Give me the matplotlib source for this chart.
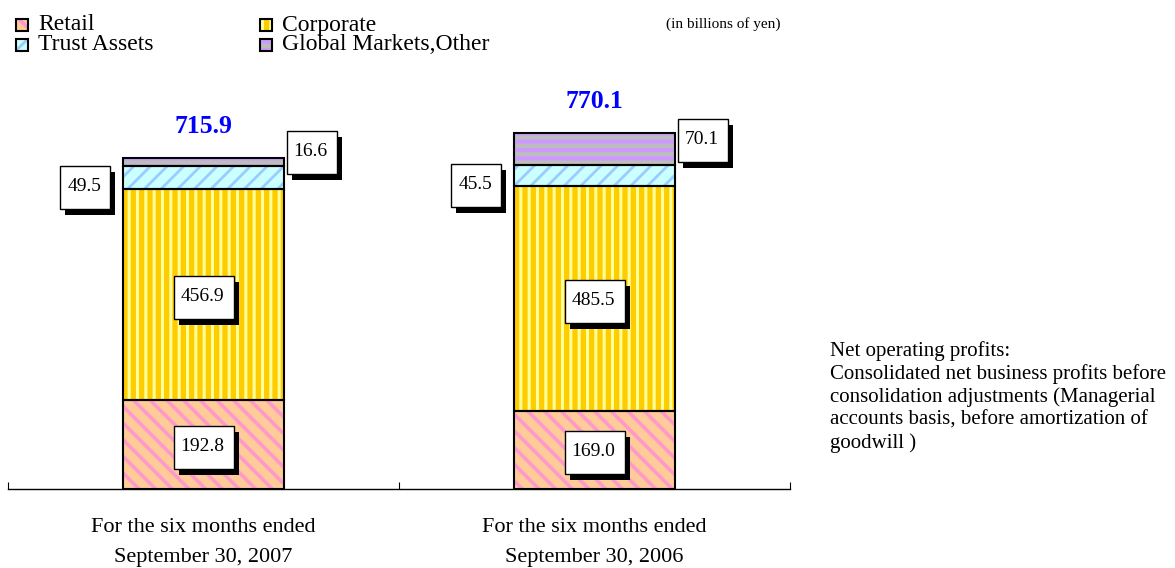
import matplotlib
matplotlib.use("Agg")
import matplotlib.pyplot as plt
import matplotlib.transforms as mtransforms
from matplotlib.patches import Rectangle

# values in billions of yen
periods = ["For the six months ended\nSeptember 30, 2007",
           "For the six months ended\nSeptember 30, 2006"]
segment_names = ["Retail", "Corporate", "Trust Assets", "Global Markets,Other"]
retail = [192.8, 169.0]
corporate = [456.9, 485.5]
trust_assets = [49.5, 45.5]
global_markets = [16.6, 70.1]
totals = [715.9, 770.1]

unit_note = "(in billions of yen)"
side_note = ("Net operating profits:\n"
             "Consolidated net business profits before\n"
             "consolidation adjustments (Managerial\n"
             "accounts basis, before amortization of\n"
             "goodwill )")

# face colour, stripe colour, hatch, stripe width (pt)
STYLES = {
    "Retail": ("#FFCC99", "#FF99CC", "\\\\", 2.6),
    "Corporate": ("#FFCC00", "#FFFF99", "||", 2.2),
    "Trust Assets": ("#CCFFFF", "#99CCFF", "//", 2.0),
    "Global Markets,Other": ("#CC99FF", "#BDBDBD", "--", 3.0),
}

plt.rcParams["font.family"] = ["Liberation Serif", "DejaVu Serif"]

W, H = 1175, 568


def fx(px):
    return px / W


def fy(py):
    return 1 - py / H


def stripe_width(patch, lw):
    if hasattr(patch, "set_hatch_linewidth"):
        patch.set_hatch_linewidth(lw)
    else:
        patch._hatch_linewidth = lw


def boxed(ax, xd, yd, text, dx=0, dy=0):
    # white label with a black drop shadow, sized in pixels around a data point
    trans = mtransforms.ScaledTranslation(xd, yd, ax.transData)
    w, h = 10 * len(text) + 10, 43
    ax.add_patch(Rectangle((dx - w / 2 + 5, dy - h / 2 - 6), w, h, transform=trans,
                           facecolor="black", edgecolor="none", zorder=5, clip_on=False))
    ax.add_patch(Rectangle((dx - w / 2, dy - h / 2), w, h, transform=trans,
                           facecolor="white", edgecolor="black", linewidth=1, zorder=6, clip_on=False))
    ax.text(dx - 1, dy + 1, text, transform=trans, ha="center", va="center", fontsize=14, zorder=7)


fig = plt.figure(figsize=(W / 100, H / 100), dpi=100)
ax = fig.add_axes([fx(8), fy(489), fx(790) - fx(8), fy(60) - fy(489)])
ax.set_xlim(0, 2)
ax.set_ylim(0, 928)

x = [0.5, 1.5]
width = 0.41
series = [retail, corporate, trust_assets, global_markets]
bottom = [0, 0]
bottoms = []
for name, vals in zip(segment_names, series):
    face, stripe, hatch, hlw = STYLES[name]
    bars = ax.bar(x, vals, width, bottom=bottom, color=face, edgecolor=stripe, hatch=hatch,
                  linewidth=0, zorder=2)
    for b in bars:
        stripe_width(b, hlw)
    ax.bar(x, vals, width, bottom=bottom, fill=False, edgecolor="black", linewidth=1.5, zorder=3)
    bottoms.append(bottom)
    bottom = [b + v for b, v in zip(bottom, vals)]

for i in range(2):
    boxed(ax, x[i], bottoms[0][i] + retail[i] / 2, f"{retail[i]:.1f}", dy=-3)
    boxed(ax, x[i], bottoms[1][i] + corporate[i] / 2, f"{corporate[i]:.1f}", dy=-3)
    boxed(ax, x[i] - width / 2, bottoms[2][i] + trust_assets[i] / 2, f"{trust_assets[i]:.1f}",
          dx=-38, dy=-10)
    boxed(ax, x[i] + width / 2, bottoms[3][i] + global_markets[i] / 2, f"{global_markets[i]:.1f}",
          dx=28, dy=9)
    ax.annotate(f"{totals[i]:.1f}", (x[i], bottom[i]), xytext=(0, 23), textcoords="offset points",
                ha="center", va="center", color="#0000FF", fontweight="bold", fontsize=18.5)

for side in ["left", "right", "top"]:
    ax.spines[side].set_visible(False)
ax.spines["bottom"].set_linewidth(1)
ax.set_yticks([])
ax.set_xticks([0, 1, 2])
ax.tick_params(axis="x", which="major", direction="in", length=5, labelbottom=False)
ax.set_xticks(x, periods, minor=True)
ax.tick_params(axis="x", which="minor", length=0, pad=21, labelsize=16)
for lbl in ax.get_xticklabels(minor=True):
    lbl.set_linespacing(1.75)

# legend drawn by hand in pixel positions
legend_pos = [(16, 25), (260, 25), (16, 45), (260, 45)]
for name, (sx, cy) in zip(segment_names, legend_pos):
    face, stripe, hatch, hlw = STYLES[name]
    sq = Rectangle((fx(sx), fy(cy + 6)), 12 / W, 12 / H, transform=fig.transFigure,
                   facecolor=face, edgecolor=stripe, hatch=hatch, linewidth=0)
    stripe_width(sq, hlw)
    fig.add_artist(sq)
    fig.add_artist(Rectangle((fx(sx), fy(cy + 6)), 12 / W, 12 / H, transform=fig.transFigure,
                             fill=False, edgecolor="black", linewidth=1.5))
    fig.text(fx(sx + 22), fy(cy), name, ha="left", va="center", fontsize=17)

fig.text(fx(723), fy(24), unit_note, ha="center", va="center", fontsize=11)
fig.text(fx(830), fy(341), side_note, ha="left", va="top", fontsize=15, linespacing=1.23)

fig.savefig("out.png", dpi=100)
